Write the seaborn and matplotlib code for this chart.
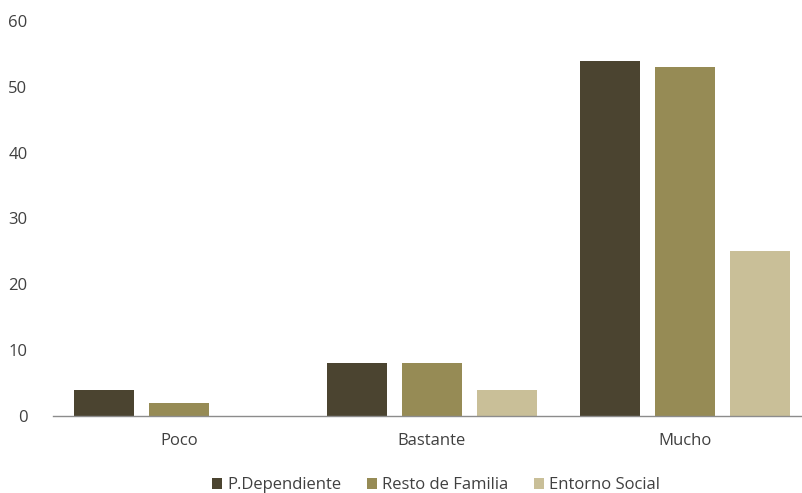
import pandas as pd
import numpy as np
import seaborn as sns
import matplotlib.pyplot as plt

# values
categorias = ['Poco', 'Bastante', 'Mucho']
series = ['P.Dependiente', 'Resto de Familia', 'Entorno Social']
p_dependiente = [4, 8, 54]
resto_familia = [2, 8, 53]
entorno_social = [0, 4, 25]
colores = ['#4b4430', '#968b55', '#c9bf98']

df = pd.DataFrame({
    'Categoria': categorias * 3,
    'Serie': [series[0]] * 3 + [series[1]] * 3 + [series[2]] * 3,
    'Valor': p_dependiente + resto_familia + entorno_social,
})

sns.set_style('white')
plt.rcParams['font.family'] = ['Open Sans', 'DejaVu Sans']

fig = plt.figure(figsize=(8.03, 4.93), dpi=100)
ax = fig.add_axes([52.5 / 803, 77 / 493, 759 / 803, 395 / 493])

sns.barplot(data=df, x='Categoria', y='Valor', hue='Serie', order=categorias,
            hue_order=series, palette=colores, width=0.89, gap=0.2,
            saturation=1, linewidth=0, ax=ax)

ax.set_xlim(-0.5, 2.5)
ax.set_ylim(0, 60)
ax.set_yticks(range(0, 61, 10))
ax.set_xlabel('')
ax.set_ylabel('')
for s in ['top', 'right', 'left']:
    ax.spines[s].set_visible(False)
ax.spines['bottom'].set_color('#8c8c8c')
ax.spines['bottom'].set_linewidth(1)
ax.tick_params(axis='y', length=0, pad=18, labelsize=12, labelcolor='#404040')
ax.tick_params(axis='x', length=0, pad=12, labelsize=12, labelcolor='#404040')

handles, labels = ax.get_legend_handles_labels()
ax.legend(handles, labels, ncol=3, frameon=False, loc='center',
          bbox_to_anchor=(436 / 803, 8 / 493), bbox_transform=fig.transFigure,
          handlelength=0.65, handleheight=0.65, handletextpad=0.3,
          columnspacing=1.5, fontsize=12, labelcolor='#404040')

plt.savefig('out.png', dpi=100)
